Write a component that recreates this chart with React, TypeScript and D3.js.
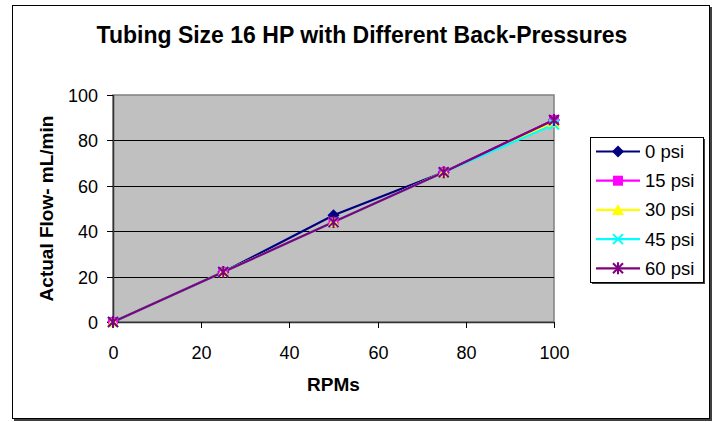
import { useEffect, useRef } from 'react';
import * as d3 from 'd3';

const rpms = [0, 25, 50, 75, 100];
const seriesNames = ['0 psi', '15 psi', '30 psi', '45 psi', '60 psi'];
const flow0 = [0, 22, 47, 66, 89];
const flow15 = [0, 22, 44, 66, 89];
const flow30 = [0, 22, 44, 66, 88];
const flow45 = [0, 22, 44, 66, 87];
const flow60 = [0, 22, 44, 66, 89];
const colors = ['#000080', '#FF00FF', '#FFFF00', '#00FFFF', '#800080'];
const markers = ['diamond', 'square', 'triangle', 'x', 'star'];
const xTicks = [0, 20, 40, 60, 80, 100];
const yTicks = [0, 20, 40, 60, 80, 100];

const FONT = 'Liberation Sans, Arial, sans-serif';

function drawMarker(g: d3.Selection<SVGGElement, unknown, null, undefined>, kind: string, x: number, y: number, color: string) {
  const r = 5.5;
  if (kind === 'diamond') {
    g.append('path').attr('d', `M${x},${y - r - 0.5}L${x + r + 0.5},${y}L${x},${y + r + 0.5}L${x - r - 0.5},${y}Z`).attr('fill', color);
  } else if (kind === 'square') {
    g.append('rect').attr('x', x - 5).attr('y', y - 5).attr('width', 10).attr('height', 10).attr('fill', color);
  } else if (kind === 'triangle') {
    g.append('path').attr('d', `M${x},${y - 6}L${x + 6},${y + 5}L${x - 6},${y + 5}Z`).attr('fill', color);
  } else if (kind === 'x') {
    g.append('path').attr('d', `M${x - 5},${y - 5}L${x + 5},${y + 5}M${x + 5},${y - 5}L${x - 5},${y + 5}`)
      .attr('stroke', color).attr('stroke-width', 2);
  } else {
    g.append('path').attr('d', `M${x - 5},${y - 5}L${x + 5},${y + 5}M${x + 5},${y - 5}L${x - 5},${y + 5}M${x},${y - 6}L${x},${y + 6}`)
      .attr('stroke', color).attr('stroke-width', 2);
  }
}

export default function App() {
  const svgRef = useRef<SVGSVGElement>(null);

  useEffect(() => {
    const svg = d3.select(svgRef.current);
    svg.selectAll('*').remove();

    const plot = { left: 113, top: 95, right: 554, bottom: 322 };

    // outer frame with shadow
    svg.append('rect').attr('x', 14).attr('y', 7).attr('width', 698).attr('height', 414).attr('fill', '#404040');
    svg.append('rect').attr('x', 12.5).attr('y', 5.5).attr('width', 697).attr('height', 413)
      .attr('fill', '#fff').attr('stroke', '#000').attr('stroke-width', 1);

    const x = d3.scaleLinear().domain([0, 100]).range([plot.left, plot.right]);
    const y = d3.scaleLinear().domain([0, 100]).range([plot.bottom, plot.top]);

    const g = svg.append('g');

    g.append('rect').attr('x', plot.left).attr('y', plot.top)
      .attr('width', plot.right - plot.left).attr('height', plot.bottom - plot.top)
      .attr('fill', '#C0C0C0').attr('stroke', '#808080').attr('stroke-width', 1.5);

    // gridlines
    yTicks.slice(1, -1).forEach(v => {
      g.append('line').attr('x1', plot.left).attr('x2', plot.right)
        .attr('y1', Math.round(y(v)) + 0.5).attr('y2', Math.round(y(v)) + 0.5)
        .attr('stroke', '#000').attr('stroke-width', 1);
    });

    // axes
    g.append('line').attr('x1', plot.left + 0.5).attr('x2', plot.left + 0.5)
      .attr('y1', plot.top).attr('y2', plot.bottom).attr('stroke', '#333').attr('stroke-width', 1.5);
    g.append('line').attr('x1', plot.left).attr('x2', plot.right)
      .attr('y1', plot.bottom + 0.5).attr('y2', plot.bottom + 0.5).attr('stroke', '#333').attr('stroke-width', 1.5);

    yTicks.forEach(v => {
      const yy = Math.round(y(v)) + 0.5;
      g.append('line').attr('x1', plot.left - 6).attr('x2', plot.left).attr('y1', yy).attr('y2', yy).attr('stroke', '#000');
      g.append('text').attr('x', 98).attr('y', yy + 6.5)
        .attr('text-anchor', 'end').attr('font-family', FONT).attr('font-size', 18).attr('fill', '#000')
        .text(v);
    });
    xTicks.forEach(v => {
      const xx = Math.round(x(v)) + 0.5;
      g.append('line').attr('x1', xx).attr('x2', xx).attr('y1', plot.bottom).attr('y2', plot.bottom + 6).attr('stroke', '#000');
      g.append('text').attr('x', xx).attr('y', 358.5)
        .attr('text-anchor', 'middle').attr('font-family', FONT).attr('font-size', 18).attr('fill', '#000')
        .text(v);
    });

    const allSeries = [flow0, flow15, flow30, flow45, flow60];
    const line = d3.line<number>().x((_, i) => x(rpms[i])).y(d => y(d));

    allSeries.forEach((s, si) => {
      g.append('path').datum(s).attr('d', line).attr('fill', 'none')
        .attr('stroke', colors[si]).attr('stroke-width', 2.2);
    });
    allSeries.forEach((s, si) => {
      const mg = g.append('g');
      s.forEach((v, i) => drawMarker(mg, markers[si], x(rpms[i]), y(v), colors[si]));
    });

    // titles
    svg.append('text').attr('x', 362).attr('y', 43).attr('text-anchor', 'middle')
      .attr('font-family', FONT).attr('font-size', 23).attr('font-weight', 'bold').text('Tubing Size 16 HP with Different Back-Pressures');
    svg.append('text').attr('x', (plot.left + plot.right) / 2).attr('y', 391).attr('text-anchor', 'middle')
      .attr('font-family', FONT).attr('font-size', 19).attr('font-weight', 'bold').text('RPMs');
    svg.append('text').attr('transform', `translate(53,${(plot.top + plot.bottom) / 2}) rotate(-90)`)
      .attr('text-anchor', 'middle')
      .attr('font-family', FONT).attr('font-size', 19).attr('font-weight', 'bold').text('Actual Flow- mL/min');

    // legend
    const lg = svg.append('g');
    lg.append('rect').attr('x', 592).attr('y', 139).attr('width', 113).attr('height', 145).attr('fill', '#404040');
    lg.append('rect').attr('x', 590.5).attr('y', 137.5).attr('width', 113).attr('height', 145)
      .attr('fill', '#fff').attr('stroke', '#000');
    seriesNames.forEach((name, i) => {
      const ly = 151.5 + i * 29.2;
      lg.append('line').attr('x1', 596).attr('x2', 640).attr('y1', ly).attr('y2', ly)
        .attr('stroke', colors[i]).attr('stroke-width', 2.2);
      drawMarker(lg, markers[i], 618, ly, colors[i]);
      lg.append('text').attr('x', 645).attr('y', ly + 6.5).attr('font-family', FONT).attr('font-size', 18.5)
        .attr('fill', '#000').text(name);
    });
  }, []);

  return (
    <svg ref={svgRef} width={717} height={422} style={{ position: 'absolute', left: 0, top: 0 }} />
  );
}
